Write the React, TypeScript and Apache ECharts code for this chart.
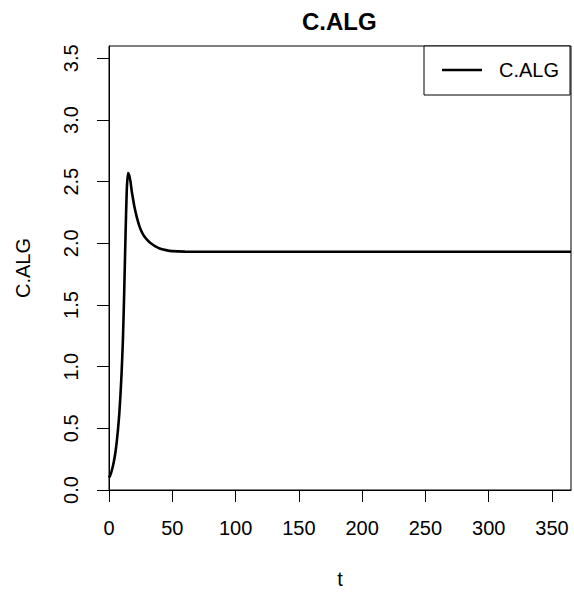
import React, { useEffect, useRef } from "react";
import * as echarts from "echarts";

const tValues = [0, 1, 2, 3, 4, 5, 6, 7, 8, 9, 10, 11, 12, 13, 14, 15, 16, 17, 18, 19, 20, 22, 24, 26, 28, 30, 33, 36, 40, 45, 50, 60, 80, 120, 200, 300, 365];
const cAlgValues = [0.1, 0.12, 0.15, 0.19, 0.24, 0.3, 0.38, 0.48, 0.6, 0.76, 0.96, 1.22, 1.6, 2.04, 2.42, 2.57, 2.55, 2.5, 2.42, 2.36, 2.3, 2.21, 2.14, 2.09, 2.055, 2.03, 2.0, 1.98, 1.958, 1.945, 1.937, 1.933, 1.932, 1.932, 1.932, 1.932, 1.932];
const xTicks = [0, 50, 100, 150, 200, 250, 300, 350];
const yTicks = [0, 0.5, 1, 1.5, 2, 2.5, 3, 3.5];
const seriesName = "C.ALG";
const titleText = "C.ALG";
const xName = "t";
const yName = "C.ALG";

const FONT = '"Liberation Sans", Arial, Helvetica, sans-serif';

export default function App() {
  const ref = useRef<HTMLDivElement>(null);
  useEffect(() => {
    if (!ref.current) return;
    const chart = echarts.init(ref.current, null, { renderer: "svg" });
    const data = tValues.map((t, i) => [t, cAlgValues[i]]);
    chart.setOption({
      animation: false,
      backgroundColor: "#ffffff",
      textStyle: { fontFamily: FONT, color: "#000" },
      title: {
        text: titleText,
        left: 302,
        top: 9,
        padding: 0,
        textStyle: { fontFamily: FONT, fontWeight: "bold", fontSize: 24, color: "#000" },
      },
      legend: {
        left: 424,
        top: 46,
        padding: [14, 11, 15, 18],
        backgroundColor: "#fff",
        borderColor: "#000",
        borderWidth: 1,
        borderRadius: 0,
        itemWidth: 40,
        itemHeight: 2.5,
        data: [{ name: seriesName, icon: "rect" }],
        textStyle: { fontFamily: FONT, fontSize: 20, color: "#000", padding: [0, 0, 0, 12] },
      },
      grid: {
        left: 109,
        right: 3,
        top: 46,
        bottom: 99,
        show: true,
        borderColor: "#000",
        borderWidth: 1,
        backgroundColor: "transparent",
      },
      xAxis: {
        type: "value",
        min: 0,
        max: 365,
        name: xName,
        nameLocation: "middle",
        nameGap: 79,
        nameTextStyle: { fontFamily: FONT, fontSize: 20, color: "#000" },
        axisLine: { show: true, onZero: false, lineStyle: { color: "#000", width: 1 } },
        axisTick: { show: true, inside: false, length: 12, lineStyle: { color: "#000" }, customValues: xTicks },
        axisLabel: { fontFamily: FONT, fontSize: 20, color: "#000", margin: 28, customValues: xTicks, formatter: (v: number) => String(v) },
        splitLine: { show: false },
      },
      yAxis: {
        type: "value",
        min: 0,
        max: 3.6,
        name: yName,
        nameLocation: "middle",
        nameGap: 76,
        nameRotate: 90,
        nameTextStyle: { fontFamily: FONT, fontSize: 20, color: "#000" },
        axisLine: { show: true, onZero: false, lineStyle: { color: "#000", width: 1 } },
        axisTick: { show: true, inside: false, length: 12, lineStyle: { color: "#000" }, customValues: yTicks },
        axisLabel: {
          fontFamily: FONT,
          fontSize: 20,
          color: "#000",
          rotate: 90,
          margin: 28,
          customValues: yTicks,
          formatter: (v: number) => v.toFixed(1),
        },
        splitLine: { show: false },
      },
      series: [
        {
          name: seriesName,
          type: "line",
          data,
          showSymbol: false,
          symbol: "none",
          smooth: 0.2,
          clip: true,
          lineStyle: { color: "#000", width: 2.6 },
          itemStyle: { color: "#000" },
        },
      ],
    });
    return () => chart.dispose();
  }, []);
  return <div ref={ref} style={{ position: "fixed", left: 0, top: 0, width: 574, height: 594 }} />;
}
